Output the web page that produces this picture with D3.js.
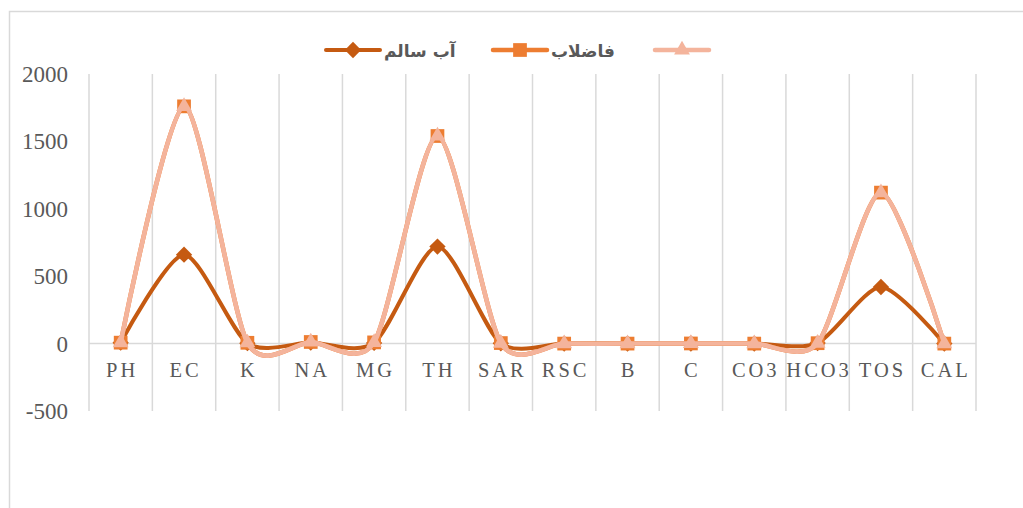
<!DOCTYPE html>
<html>
<head>
<meta charset="utf-8">
<script src="https://cdn.jsdelivr.net/npm/d3@7/dist/d3.min.js"></script>
<style>
  body { margin: 0; background: #fff; }
  svg { display: block; }
</style>
</head>
<body>
<svg width="1023" height="508"></svg>
<script>
'use strict';

// Chart data.
const categories = ['PH', 'EC', 'K', 'NA', 'MG', 'TH', 'SAR', 'RSC', 'B', 'C', 'CO3', 'HCO3', 'TOS', 'CAL'];
const healthyWater = [7, 660, 3, 8, 5, 720, 2, 0, 0, 1, 0, 4, 420, 0];
const wastewater = [7, 1760, 6, 12, 9, 1540, 4, 0, 0, 1, 0, 3, 1120, 0];
const thirdSeries = [7, 1760, 6, 12, 9, 1540, 4, 0, 0, 1, 0, 3, 1120, 0];
const seriesNames = ['آب سالم', 'فاضلاب', ''];
const yTicks = [-500, 0, 500, 1000, 1500, 2000];

const svg = d3.select('svg');
const plot = { left: 89, right: 976, top: 74, bottom: 411 };

// Outer chart border (runs off the right and bottom edge).
svg.append('rect')
  .attr('x', 9.5).attr('y', 11.5)
  .attr('width', 1040).attr('height', 520)
  .attr('fill', 'none')
  .attr('stroke', '#d9d9d9')
  .attr('stroke-width', 1.5);

const x = d3.scaleBand().domain(categories).range([plot.left, plot.right]);
const y = d3.scaleLinear().domain([-500, 2000]).range([plot.bottom, plot.top]);
const cx = d => x(d) + x.bandwidth() / 2;

// Vertical category gridlines.
const bounds = categories.map(c => x(c)).concat([plot.right]);
svg.append('g')
  .selectAll('line')
  .data(bounds)
  .join('line')
  .attr('x1', d => d).attr('x2', d => d)
  .attr('y1', plot.top).attr('y2', plot.bottom)
  .attr('stroke', '#d9d9d9')
  .attr('stroke-width', 1.5);

// Category axis at zero.
svg.append('line')
  .attr('x1', plot.left).attr('x2', plot.right)
  .attr('y1', y(0)).attr('y2', y(0))
  .attr('stroke', '#d9d9d9')
  .attr('stroke-width', 1.5);

// Value axis labels.
svg.append('g')
  .selectAll('text')
  .data(yTicks)
  .join('text')
  .attr('x', 68)
  .attr('y', d => y(d) + 8)
  .attr('text-anchor', 'end')
  .attr('font-family', 'Liberation Serif')
  .attr('font-size', 23)
  .attr('fill', '#595959')
  .text(d => d);

// Category labels.
svg.append('g')
  .selectAll('text')
  .data(categories)
  .join('text')
  .attr('x', d => cx(d) + 1.5)
  .attr('y', 377)
  .attr('text-anchor', 'middle')
  .attr('font-family', 'Liberation Serif')
  .attr('font-size', 20.5)
  .attr('letter-spacing', 3)
  .attr('fill', '#595959')
  .text(d => d);

const series = [
  { name: seriesNames[0], values: healthyWater, color: '#C55A11', marker: d3.symbolDiamond2, size: 170, width: 4 },
  { name: seriesNames[1], values: wastewater, color: '#ED7D31', marker: d3.symbolSquare2, size: 240, width: 4.5 },
  { name: seriesNames[2], values: thirdSeries, color: '#F4B49C', marker: d3.symbolTriangle2, size: 180, width: 4.5 },
];

const line = d3.line()
  .x((d, i) => cx(categories[i]))
  .y(d => y(d))
  .curve(d3.curveCardinal.tension(0.25));

// Lines and markers, drawn series by series.
series.forEach(s => {
  const g = svg.append('g');
  g.append('path')
    .attr('d', line(s.values))
    .attr('fill', 'none')
    .attr('stroke', s.color)
    .attr('stroke-width', s.width)
    .attr('stroke-linecap', 'round');
  g.selectAll('path.m')
    .data(s.values)
    .join('path')
    .attr('class', 'm')
    .attr('transform', (d, i) => `translate(${cx(categories[i])},${y(d)})`)
    .attr('d', d3.symbol().type(s.marker).size(s.size))
    .attr('fill', s.color)
    .attr('stroke', 'none');
});

// Legend.
const legendX = [326, 493, 655];
const legend = svg.append('g');
series.forEach((s, i) => {
  const lx = legendX[i];
  legend.append('line')
    .attr('x1', lx).attr('x2', lx + 54)
    .attr('y1', 50).attr('y2', 50)
    .attr('stroke', s.color)
    .attr('stroke-width', s.width)
    .attr('stroke-linecap', 'round');
  legend.append('path')
    .attr('transform', `translate(${lx + 27},50)`)
    .attr('d', d3.symbol().type(s.marker).size(s.size))
    .attr('fill', s.color);
  legend.append('text')
    .attr('x', lx + 58)
    .attr('y', 57)
    .attr('text-anchor', 'start')
    .attr('font-family', 'DejaVu Sans')
    .attr('font-weight', 'bold')
    .attr('font-size', 17)
    .attr('fill', '#595959')
    .text(s.name);
});
</script>
</body>
</html>
